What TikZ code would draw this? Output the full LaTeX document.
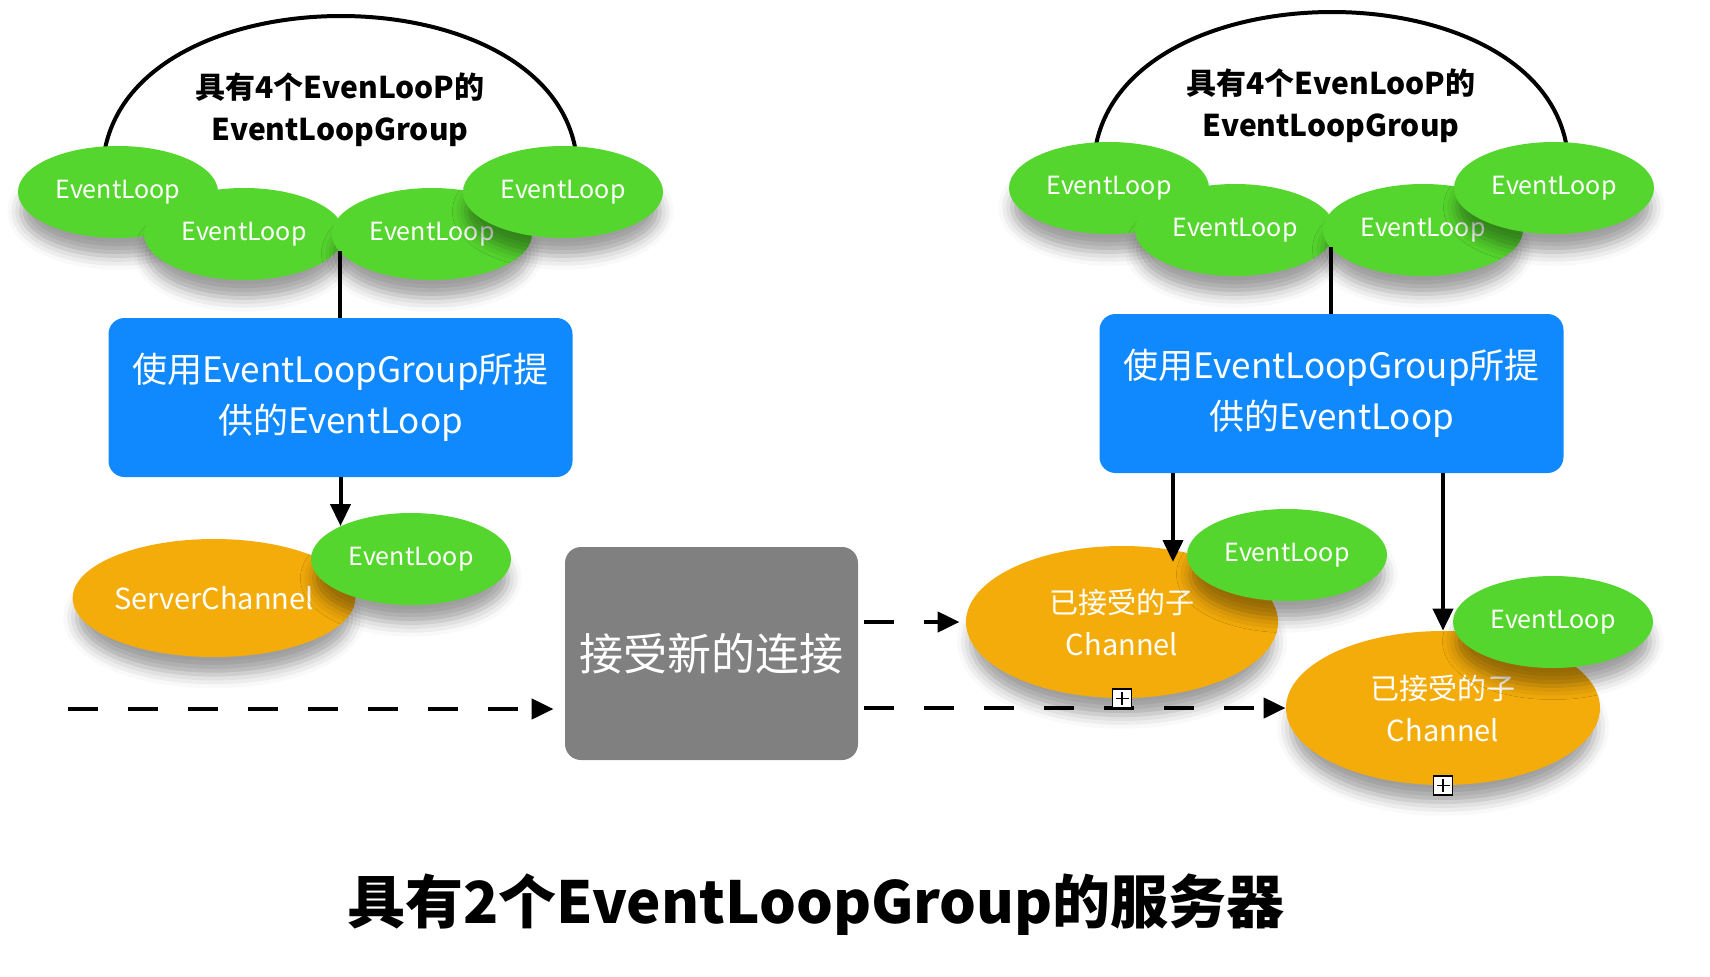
\documentclass[tikz,border=0pt]{standalone}
\usepackage{fontspec}
\setmainfont{Noto Sans CJK SC}
\usetikzlibrary{arrows.meta,shapes.geometric,shadows.blur}
\definecolor{loopgreen}{RGB}{85,214,46}
\definecolor{chanorange}{RGB}{244,172,10}
\definecolor{boxblue}{RGB}{16,137,255}
\definecolor{boxgray}{RGB}{128,128,128}
\tikzset{
  softshadow/.style={blur shadow={shadow xshift=0pt,shadow yshift=-10pt,shadow scale=.97,shadow blur radius=7pt,shadow opacity=38}},
  evloop/.style={ellipse,fill=loopgreen,text=white,inner sep=0pt,minimum width=100pt,minimum height=46pt,font=\fontsize{12.5}{14}\selectfont,softshadow},
  chan/.style={ellipse,fill=chanorange,text=white,inner sep=0pt,align=center,font=\fontsize{14.5}{21}\selectfont,softshadow},
  groupbox/.style={rectangle,rounded corners=8pt,fill=boxblue,text=white,minimum width=232pt,minimum height=79.5pt,align=center,font=\fontsize{17.5}{25.5}\selectfont},
  graybox/.style={rectangle,rounded corners=8pt,fill=boxgray,text=white,minimum width=146.5pt,minimum height=106.5pt,font=\fontsize{22}{26}\selectfont},
  grouptitle/.style={align=center,font=\fontsize{15}{21}\selectfont\bfseries},
  plusbox/.style={draw,fill=white,line width=.8pt,minimum size=9.5pt,inner sep=0pt,
    path picture={\draw[line width=.7pt] ([yshift=-1.5pt]path picture bounding box.north)--([yshift=1.5pt]path picture bounding box.south);
                  \draw[line width=.7pt] ([xshift=-1.5pt]path picture bounding box.east)--([xshift=1.5pt]path picture bounding box.west);}},
  link/.style={line width=2pt,-{Triangle[length=11pt,width=10pt]}},
  dashlink/.style={link,line width=2.2pt,dash pattern=on 15pt off 15pt},
}
\begin{document}
\begin{tikzpicture}[x=0.5pt,y=-0.5pt]
\useasboundingbox (0,0) rectangle (1710,976);
% two event loop groups
\foreach \g/\dx/\dy in {l/0/0,r/991/-4}{
  \begin{scope}[shift={(\dx,\dy)}]
  \coordinate (a\g) at (105,149);\coordinate (z\g) at (575,147);
  \draw[line width=2pt] (a\g) .. controls (140,-28) and (540,-28) .. (z\g);
  \node[evloop] (e1\g) at (118,192) {EventLoop};
  \node[evloop] (e2\g) at (244,234) {EventLoop};
  \node[evloop] (e3\g) at (432,234) {EventLoop};
  \node[evloop] (e4\g) at (563,192) {EventLoop};
  \node[grouptitle] (t\g) at (340,110) {具有4个EvenLooP的\\EventLoopGroup};
  \node[groupbox] (b\g) at (340.5,397.5) {使用EventLoopGroup所提\\供的EventLoop};
  \coordinate (j\g) at (340,251);
  \draw[line width=2pt] (j\g) -- (j\g |- b\g.north);
  \end{scope}
}
% server side
\node[chan,minimum width=134pt,minimum height=59pt] (sc) at (214,598) {ServerChannel};
\node[evloop] (e5) at (411,559) {EventLoop};
\draw[link] (bl.south) -- (e5.155 -| bl.south);
\node[graybox] (acc) at (711.5,653.5) {接受新的连接};
\coordinate (src) at (68,709);
\draw[dashlink,shorten >=5.5pt] (src) -- (src -| acc.west);
% accepted channels
\node[chan,minimum width=156pt,minimum height=76pt] (c1) at (1122,622) {已接受的子\\Channel};
\node[evloop] (e6) at (1287,555) {EventLoop};
\node[chan,minimum width=157pt,minimum height=77pt] (c2) at (1443,708) {已接受的子\\Channel};
\node[evloop] (e7) at (1553,622) {EventLoop};
\coordinate (t1) at (1173,562);
\draw[link] (t1 |- br.south) -- (t1);
\draw[link] (c2.north |- br.south) -- (c2.north);
\draw[dashlink,shorten >=3pt] ([xshift=3pt]acc.east |- c1.west) -- (c1.west);
\draw[dashlink] ([xshift=3pt]acc.east |- c2.west) -- (c2.west);
\node[plusbox] (p1) at (c1.south) {};
\node[plusbox] (p2) at (c2.south) {};
\node[font=\fontsize{29}{35}\selectfont\bfseries] (cap) at (816,905) {具有2个EventLoopGroup的服务器};
\end{tikzpicture}
\end{document}
